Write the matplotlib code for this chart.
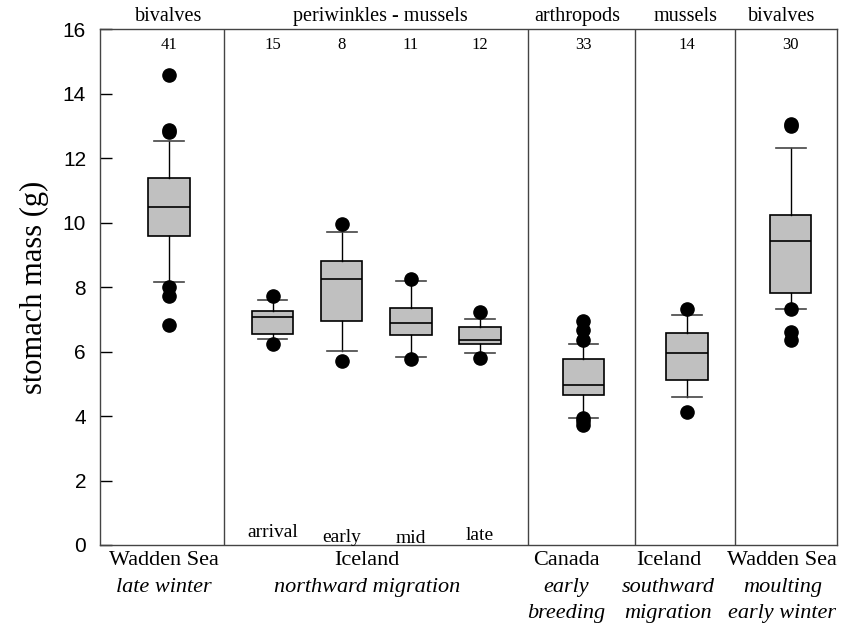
import matplotlib.pyplot as plt

plt.rcParams.update({
    "font.family": "serif",
    "font.serif": ["Liberation Serif", "DejaVu Serif"],
})

# box statistics (stomach mass, g)
n_birds = [41, 15, 8, 11, 12, 33, 14, 30]
q1 = [9.59, 6.56, 6.94, 6.51, 6.24, 4.64, 5.12, 7.81]
medians = [10.49, 7.08, 8.24, 6.90, 6.37, 4.97, 5.97, 9.43]
q3 = [11.39, 7.27, 8.82, 7.36, 6.77, 5.78, 6.59, 10.25]
whisk_lo = [8.16, 6.40, 6.03, 5.82, 5.95, 3.95, 4.58, 7.31]
whisk_hi = [12.53, 7.60, 9.70, 8.18, 7.00, 6.24, 7.14, 12.31]
outliers = [
    [14.58, 12.88, 12.80, 8.00, 7.73, 6.83],
    [7.73, 6.24],
    [9.95, 5.71],
    [8.25, 5.78],
    [7.24, 5.79],
    [6.96, 6.67, 6.36, 3.95, 3.85, 3.72],
    [7.31, 4.13],
    [13.00, 13.05, 7.31, 6.62, 6.36],
]

phases = ["arrival", "early", "mid", "late"]
diets = ["bivalves", "periwinkles - mussels", "arthropods", "mussels", "bivalves"]
sites = ["Wadden Sea", "Iceland", "Canada", "Iceland", "Wadden Sea"]
seasons = [["late winter"], ["northward migration"], ["early", "breeding"],
           ["southward", "migration"], ["moulting", "early winter"]]

positions = [1, 2.5, 3.5, 4.5, 5.5, 7, 8.5, 10]
separators = [1.8, 6.2, 7.75, 9.2]
diet_x = [1.0, 4.06, 6.91, 8.48, 9.87]
site_x = [0.93, 3.87, 6.75, 8.23, 9.88]

stats = []
for i in range(len(medians)):
    stats.append({"med": medians[i], "q1": q1[i], "q3": q3[i],
                  "whislo": whisk_lo[i], "whishi": whisk_hi[i],
                  "fliers": outliers[i]})

fig = plt.figure(figsize=(8.45, 6.25), dpi=100)
ax = fig.add_axes([0.1183, 0.128, 0.8722, 0.8251])

ax.bxp(stats, positions=positions, widths=0.6, capwidths=0.43,
       patch_artist=True, showfliers=True,
       boxprops=dict(facecolor="#c0c0c0", edgecolor="black", linewidth=1.2),
       medianprops=dict(color="black", linewidth=1.2),
       whiskerprops=dict(color="black", linewidth=1.0),
       capprops=dict(color="#444444", linewidth=1.2),
       flierprops=dict(marker="o", markerfacecolor="black",
                       markeredgecolor="black", markersize=9.5))

for s in separators:
    ax.axvline(s, color="#444444", linewidth=1.0)

ax.set_xlim(0, 10.67)
ax.set_ylim(0, 16)
ax.set_yticks(range(0, 17, 2))
ax.set_xticks([])
ax.tick_params(axis="y", direction="in", length=8.5, width=1.0,
               labelsize=15, pad=10)
for lab in ax.get_yticklabels():
    lab.set_fontfamily("Liberation Sans")
for sp in ax.spines.values():
    sp.set_color("#444444")
    sp.set_linewidth(1.0)

ax.set_ylabel("stomach mass (g)", fontsize=22, labelpad=10)

# sample sizes
for x, n in zip(positions, n_birds):
    ax.text(x, 15.5, str(n), ha="center", va="center", fontsize=12)

# migration phases in Iceland
phase_y = [0.25, 0.1, 0.05, 0.15]
for x, p, y in zip(positions[1:5], phases, phase_y):
    ax.text(x, y, p, ha="center", va="baseline", fontsize=14)

# diet labels above the frame
xt = ax.get_xaxis_transform()
for x, d in zip(diet_x, diets):
    ax.text(x, 1.0 + 8 / 515.7, d, transform=xt, ha="center", va="baseline",
            fontsize=14.5)

# site and season labels below the frame
for x, site, season in zip(site_x, sites, seasons):
    ax.text(x, -16 / 515.7, site, transform=xt, ha="center", va="center",
            fontsize=16)
    for k, line in enumerate(season):
        ax.text(x, -(43 + 26 * k) / 515.7, line, transform=xt, ha="center",
                va="center", fontsize=16, style="italic")

fig.savefig("out.png", dpi=100)
